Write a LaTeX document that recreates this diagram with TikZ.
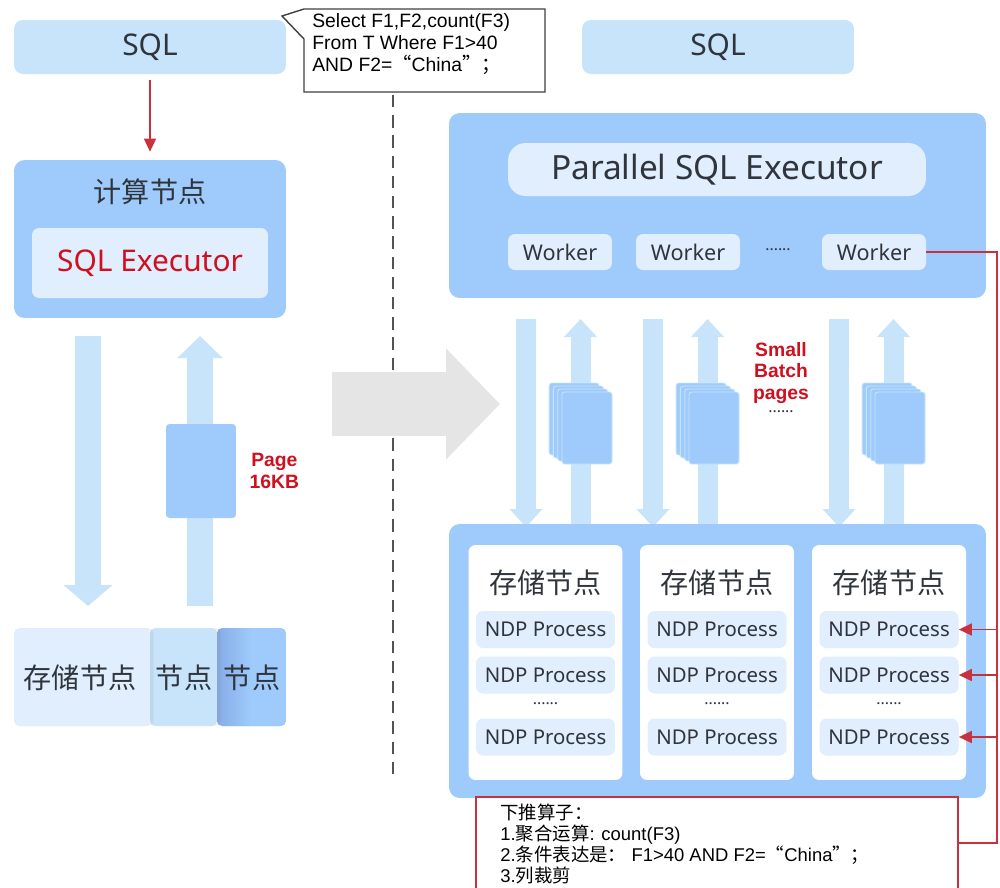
\documentclass[tikz,border=0pt]{standalone}
\usepackage{fontspec}
\setmainfont{Noto Sans}
\newfontfamily\cjk{Noto Sans CJK SC}
\newfontfamily\arial{Liberation Sans}
\usetikzlibrary{arrows.meta,positioning,shadows}

\definecolor{skyblue}{HTML}{C8E4FA}
\definecolor{midblue}{HTML}{9FCBFC}
\definecolor{paleblue}{HTML}{E0EEFD}
\definecolor{shadeblue}{HTML}{86ACE6}
\definecolor{darktext}{HTML}{30353D}
\definecolor{redtext}{HTML}{D0101E}
\definecolor{redwire}{HTML}{C8323E}
\definecolor{arrowgray}{HTML}{E5E5E5}

\newcommand{\zh}[1]{{\cjk #1}}

\begin{document}
\begin{tikzpicture}[x=0.02cm, y=-0.02cm,
    every node/.style={text=darktext, inner sep=0pt},
    sqlbox/.style={fill=skyblue, rounded corners=5pt, minimum width=5.44cm,
      minimum height=1.08cm, font=\fontsize{17}{20}\selectfont},
    panel/.style={fill=midblue, rounded corners=6pt},
    inbox/.style={fill=paleblue, rounded corners=4pt},
    zhtitle/.style={font=\cjk\fontsize{16}{19}\selectfont},
    worker/.style={inbox, minimum width=2.08cm, minimum height=0.72cm,
      font=\fontsize{12.3}{15}\selectfont},
    ndp/.style={inbox, minimum width=2.78cm, minimum height=0.74cm,
      font=\fontsize{11.6}{14}\selectfont},
    pagecard/.style={fill=midblue, draw=skyblue, line width=0.5pt,
      rounded corners=1.5pt, minimum width=1cm, minimum height=1.44cm},
    redlabel/.style={text=redtext, align=center,
      font=\arial\bfseries\fontsize{11}{12.3}\selectfont},
    dots/.style={font=\fontsize{9}{10}\selectfont},
    fatdown/.style={skyblue, line width=0.4cm,
      -{Triangle[length=0.36cm,width=0.64cm]}},
    redline/.style={redwire, line width=0.9pt},
    redtip/.style={-{Triangle[length=0.26cm,width=0.24cm]}},
  ]
  \useasboundingbox (0,0) rectangle (1000,887);

  % left side: single compute node
  \node[sqlbox] (sqlL) at (150,47) {SQL};
  \node[panel, minimum width=5.44cm, minimum height=3.16cm] (comp) at (150,239) {};
  \node[zhtitle] (compT) at (150,192) {计算节点};
  \node[inbox, minimum width=4.72cm, minimum height=1.4cm, text=redtext,
    font=\fontsize{17}{20}\selectfont] (exec) at (150,263) {SQL Executor};
  \draw[redline, redtip, shorten >=0.16cm, shorten <=0.12cm] (sqlL) -- (comp);

  \draw[skyblue, line width=0.52cm, -{Triangle[length=0.42cm,width=0.96cm]}] (88,336) -- (88,606);
  \draw[skyblue, line width=0.52cm, -{Triangle[length=0.44cm,width=0.88cm]}] (200,606) -- (200,336);
  \node[fill=midblue, rounded corners=2pt, minimum width=1.4cm, minimum height=1.88cm] (page) at (201,471) {};
  \node[redlabel, right=0.26cm of page] (pageL) {Page\\16KB};

  \node[fill=midblue, rounded corners=3pt, left color=shadeblue, right color=midblue,
    middle color=midblue, minimum width=1.38cm, minimum height=1.96cm] (stC) at (251.5,677) {};
  \node[fill=skyblue, rounded corners=3pt, drop shadow={opacity=0.12, shadow xshift=2pt, shadow yshift=0pt},
    minimum width=1.34cm, minimum height=1.96cm] (stB) at (183.5,677) {};
  \node[fill=paleblue, rounded corners=3pt, drop shadow={opacity=0.12, shadow xshift=2pt, shadow yshift=0pt},
    minimum width=2.72cm, minimum height=1.96cm] (stA) at (82,677) {};
  \node[zhtitle] (stAT) at (80,678) {存储节点};
  \node[zhtitle] (stBT) at (184,678) {节点};
  \node[zhtitle] (stCT) at (252,678) {节点};

  % query callout and divider
  \draw[black!75, fill=white, line width=0.8pt] (304,9) -- (545,9) -- (545,92) -- (304,92)
    -- (304,39) -- (282,16) -- cycle;
  \node[anchor=north west, align=left, font=\arial\fontsize{11}{12.6}\selectfont, text=black]
    (query) at (312,13) {Select F1,F2,count(F3)\\From T Where F1>40\\AND F2=\zh{“}China\zh{”}\zh{；}};
  \draw[darktext!85, line width=1.1pt, dash pattern=on 7pt off 4.5pt] (393,95) -- (393,775);

  \draw[arrowgray, line width=1.28cm, -{Triangle[length=1.08cm,width=2.16cm]}] (332,404) -- (500,404);

  % right side: parallel executor
  \node[sqlbox] (sqlR) at (718,47) {SQL};
  \node[panel, minimum width=10.74cm, minimum height=3.7cm] (pse) at (717.5,205.5) {};
  \node[inbox, rounded corners=10pt, minimum width=8.36cm, minimum height=1.06cm,
    font=\fontsize{19}{22}\selectfont] (pexec) at (717,169.5) {Parallel SQL Executor};
  \node[worker] (w1) at (560,252) {Worker};
  \node[worker] (w2) at (688,252) {Worker};
  \node[dots] (wdots) at (778,250) {......};
  \node[worker] (w3) at (874,252) {Worker};

  \foreach \cx [count=\s] in {526,653,839} {
    \draw[fatdown] (\cx,319) -- (\cx,527);
    \draw[fatdown] (\cx+54.5,527) -- (\cx+54.5,319);
    \foreach \k in {3,2,1,0}
      \node[pagecard] (pg\s-\k) at (\cx+61-4.3*\k,428-3*\k) {};
  }
  \node[redlabel] (batch) at (781,373) {Small\\Batch\\pages};
  \node[dots] (bdots) at (781,412) {......};

  % storage nodes
  \node[panel, minimum width=10.74cm, minimum height=5.48cm] (store) at (717.5,661) {};
  \foreach \cx [count=\c] in {545.5,717,889} {
    \node[fill=white, rounded corners=4pt, minimum width=3.08cm, minimum height=4.7cm] (card\c) at (\cx,662.5) {};
    \node[zhtitle] (card\c T) at (\cx,583) {存储节点};
    \node[ndp] (ndp\c-1) at (\cx,629.5) {NDP Process};
    \node[ndp] (ndp\c-2) at (\cx,675) {NDP Process};
    \node[dots] (ndp\c-d) at (\cx,704) {......};
    \node[ndp] (ndp\c-3) at (\cx,737) {NDP Process};
  }

  % pushed-down operators
  \node[draw=redwire, fill=white, line width=0.9pt, minimum width=9.64cm, minimum height=1.84cm] (note) at (717,843) {};
  \node[anchor=north west, align=left, text=black, font=\arial\fontsize{10.5}{11.9}\selectfont] (noteT) at (500,804)
    {\zh{下推算子：}\\1.\zh{聚合运算}: count(F3)\\2.\zh{条件表达是：} F1>40 AND F2=\zh{“}China\zh{”；}\\3.\zh{列裁剪}};

  \coordinate (busT) at (997,252);
  \coordinate (busB) at (997,843);
  \draw[redline] (w3.east) -- (busT) -- (busB) -- (note.east);
  \foreach \r in {1,2,3}
    \draw[redline, redtip] (ndp3-\r.east -| busT) -- (ndp3-\r.east);
\end{tikzpicture}
\end{document}
